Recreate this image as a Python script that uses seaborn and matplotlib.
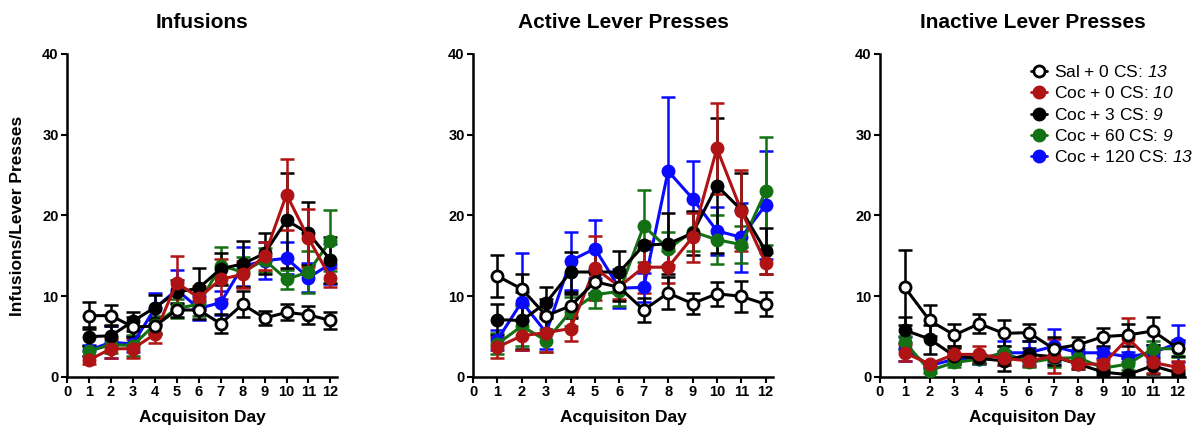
import numpy as np
import pandas as pd
import seaborn as sns
import matplotlib.pyplot as plt
from matplotlib.lines import Line2D

sns.set_style("ticks")
plt.rcParams["font.family"] = ["Liberation Sans", "DejaVu Sans"]
plt.rcParams["text.color"] = "black"
plt.rcParams["axes.labelcolor"] = "black"
plt.rcParams["xtick.color"] = "black"
plt.rcParams["ytick.color"] = "black"
plt.rcParams["axes.edgecolor"] = "black"
# digits in mathtext \it are forced upright, so map rm to the italic face
plt.rcParams["mathtext.fontset"] = "custom"
plt.rcParams["mathtext.rm"] = "Liberation Sans:italic"

days = list(range(1, 13))
groups = ["Sal + 0 CS", "Coc + 0 CS", "Coc + 3 CS", "Coc + 60 CS", "Coc + 120 CS"]
group_n = [13, 10, 9, 9, 13]
colors = ["black", "#b01313", "black", "#137013", "#0a0aff"]
panels = ["Infusions", "Active Lever Presses", "Inactive Lever Presses"]

# ---- Infusions ----
inf_sal = [7.6, 7.6, 6.2, 6.3, 8.3, 8.3, 6.6, 9.0, 7.3, 8.0, 7.7, 7.0]
inf_sal_err = [1.7, 1.3, 1.2, 1.0, 0.9, 1.1, 1.2, 1.6, 0.9, 1.0, 1.1, 1.0]
inf_c0 = [2.1, 3.5, 3.5, 5.3, 11.7, 9.8, 12.1, 12.7, 15.0, 22.6, 17.2, 12.3]
inf_c0_err = [0.5, 1.2, 1.2, 1.1, 3.3, 1.5, 2.5, 1.7, 1.7, 4.4, 3.6, 1.2]
inf_c3 = [5.0, 5.1, 6.9, 8.6, 10.5, 11.0, 13.4, 14.0, 15.3, 19.4, 17.8, 14.5]
inf_c3_err = [1.2, 1.3, 1.2, 1.5, 1.5, 2.5, 2.0, 2.9, 2.5, 5.9, 3.9, 2.8]
inf_c60 = [3.2, 4.0, 3.9, 6.5, 8.5, 9.0, 13.8, 13.0, 14.5, 12.1, 13.0, 16.9]
inf_c60_err = [0.6, 1.0, 1.3, 1.0, 1.2, 1.5, 2.3, 1.8, 1.5, 1.2, 2.6, 3.8]
inf_c120 = [3.3, 4.3, 4.1, 8.5, 10.8, 8.5, 9.2, 13.7, 14.4, 14.7, 12.3, 14.0]
inf_c120_err = [0.7, 2.0, 1.0, 1.9, 2.5, 1.5, 1.5, 2.4, 2.3, 2.0, 1.8, 2.5]

# ---- Active lever presses ----
act_sal = [12.5, 10.9, 7.6, 8.8, 11.8, 11.1, 8.3, 10.4, 9.1, 10.3, 10.0, 9.0]
act_sal_err = [2.6, 1.8, 2.1, 1.5, 1.5, 1.7, 1.5, 2.0, 1.3, 1.5, 1.9, 1.5]
act_c0 = [3.7, 5.1, 5.5, 6.0, 13.5, 11.2, 13.6, 13.6, 17.3, 28.3, 20.6, 14.1]
act_c0_err = [1.3, 1.8, 2.4, 1.5, 4.0, 1.6, 3.2, 2.0, 3.0, 5.6, 5.0, 1.3]
act_c3 = [7.1, 7.0, 9.2, 13.0, 13.0, 13.0, 16.3, 16.5, 17.8, 23.7, 20.7, 15.6]
act_c3_err = [1.9, 3.5, 1.9, 2.5, 2.6, 2.6, 0.4, 3.8, 2.7, 8.4, 4.6, 2.8]
act_c60 = [4.1, 6.3, 4.5, 8.1, 10.2, 10.6, 18.7, 15.9, 18.0, 17.0, 16.4, 23.0]
act_c60_err = [1.3, 2.5, 1.4, 1.8, 1.7, 1.8, 4.5, 2.0, 2.4, 3.0, 2.3, 6.7]
act_c120 = [4.6, 9.3, 5.5, 14.4, 15.9, 11.0, 11.1, 25.5, 22.1, 18.1, 17.3, 21.3]
act_c120_err = [1.2, 6.0, 2.0, 3.6, 3.6, 2.4, 1.8, 9.2, 4.7, 3.0, 4.3, 6.7]

# ---- Inactive lever presses ----
ina_sal = [11.1, 7.0, 5.2, 6.6, 5.4, 5.5, 3.5, 4.0, 5.0, 5.2, 5.7, 3.6]
ina_sal_err = [4.6, 1.9, 1.4, 1.2, 1.6, 1.1, 1.5, 0.9, 1.1, 1.4, 1.7, 1.0]
ina_c0 = [3.0, 1.6, 2.8, 2.8, 2.3, 2.0, 2.6, 1.6, 1.6, 4.8, 1.8, 1.2]
ina_c0_err = [1.0, 0.3, 1.1, 1.1, 0.8, 0.6, 2.1, 0.5, 0.5, 2.5, 1.3, 0.8]
ina_c3 = [5.8, 4.7, 2.6, 2.3, 2.0, 2.8, 2.5, 1.6, 0.6, 0.3, 1.4, 0.5]
ina_c3_err = [1.6, 1.8, 1.0, 0.6, 1.2, 0.8, 1.0, 0.6, 0.3, 0.2, 1.0, 0.4]
ina_c60 = [4.3, 0.8, 1.8, 2.2, 3.0, 1.8, 2.3, 2.4, 1.1, 1.6, 3.5, 3.5]
ina_c60_err = [0.8, 0.3, 0.6, 0.6, 0.8, 0.5, 1.0, 0.5, 0.4, 0.7, 0.9, 1.0]
ina_c120 = [3.5, 1.4, 2.2, 2.2, 3.0, 3.0, 3.8, 3.0, 3.0, 2.5, 3.0, 4.2]
ina_c120_err = [1.5, 0.3, 0.6, 0.6, 1.5, 1.5, 2.2, 0.5, 0.6, 0.6, 1.0, 2.3]

means = {
    "Infusions": [inf_sal, inf_c0, inf_c3, inf_c60, inf_c120],
    "Active Lever Presses": [act_sal, act_c0, act_c3, act_c60, act_c120],
    "Inactive Lever Presses": [ina_sal, ina_c0, ina_c3, ina_c60, ina_c120],
}
errs = {
    "Infusions": [inf_sal_err, inf_c0_err, inf_c3_err, inf_c60_err, inf_c120_err],
    "Active Lever Presses": [act_sal_err, act_c0_err, act_c3_err, act_c60_err, act_c120_err],
    "Inactive Lever Presses": [ina_sal_err, ina_c0_err, ina_c3_err, ina_c60_err, ina_c120_err],
}

rows = []
for p in panels:
    for g, m, e in zip(groups, means[p], errs[p]):
        for d, mv, ev in zip(days, m, e):
            rows.append({"panel": p, "group": g, "day": d, "mean": mv, "sem": ev})
df = pd.DataFrame(rows)

fig = plt.figure(figsize=(11.96, 4.33), dpi=100)
# left, width in pixels for each panel
boxes = [(67, 270), (473, 300), (880, 305)]
draw_order = [4, 3, 2, 1, 0]  # saline drawn last (on top)

for (left, width), p in zip(boxes, panels):
    ax = fig.add_axes([left / 1196, 56 / 433, width / 1196, 323 / 433])
    sub = df[df.panel == p]
    for gi in draw_order:
        g = groups[gi]
        d = sub[sub.group == g]
        ax.errorbar(d["day"], d["mean"], yerr=d["sem"], fmt="none",
                    ecolor=colors[gi], elinewidth=1.8, capsize=5, capthick=1.8,
                    zorder=2 + (5 - gi) * 0.1)
        sns.lineplot(data=d, x="day", y="mean", ax=ax, color=colors[gi],
                     lw=2.2, marker="o", markersize=8,
                     markerfacecolor="white" if gi == 0 else colors[gi],
                     markeredgecolor=colors[gi], markeredgewidth=2,
                     zorder=3 + (5 - gi) * 0.1, legend=False)
    ax.set_xlim(0, 12.3)
    ax.set_ylim(0, 40)
    ax.set_xticks(range(0, 13))
    ax.set_yticks([0, 10, 20, 30, 40])
    ax.tick_params(labelsize=10.5, width=1.5, length=4, pad=2)
    for lab in ax.get_xticklabels() + ax.get_yticklabels():
        lab.set_fontweight("bold")
    for s in ["left", "bottom"]:
        ax.spines[s].set_linewidth(1.8)
    sns.despine(ax=ax)
    ax.set_title(p, fontsize=15, fontweight="bold", pad=19)
    ax.set_xlabel("Acquisiton Day", fontsize=12.5, fontweight="bold", labelpad=8)
    if p == "Infusions":
        ax.set_ylabel("Infusions/Lever Presses", fontsize=12.5, fontweight="bold", labelpad=12)
    else:
        ax.set_ylabel("")
    if p == "Inactive Lever Presses":
        handles = [Line2D([0], [0], color=colors[i], lw=2, marker="o", markersize=8,
                          markerfacecolor="white" if i == 0 else colors[i],
                          markeredgecolor=colors[i], markeredgewidth=2)
                   for i in range(5)]
        labels = [f"{g}: $\\mathrm{{{n}}}$" for g, n in zip(groups, group_n)]
        ax.legend(handles, labels, loc="upper right", frameon=False, fontsize=12.5,
                  handlelength=0.9, handletextpad=0.4, labelspacing=0.3,
                  bbox_to_anchor=(1.05, 0.99), borderaxespad=0)

fig.savefig("out.png", dpi=100)
